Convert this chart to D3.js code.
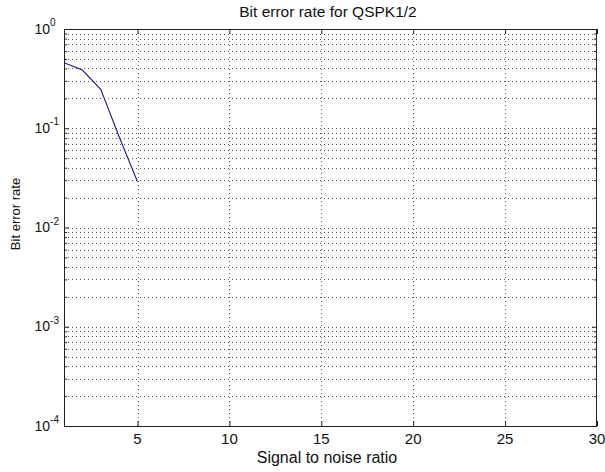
<!DOCTYPE html>
<html><head><meta charset="utf-8">
<script src="https://cdn.jsdelivr.net/npm/d3@7"></script>
<style>body{margin:0;background:#fff}svg{display:block}text{font-family:"Liberation Sans",Arial,sans-serif;fill:#111}</style>
</head><body><svg id="c" width="605" height="472"></svg>
<script>
const snr = [1, 2, 3, 4, 5];
const ber = [0.457, 0.386, 0.247, 0.082, 0.0289];
const xTicks = [5, 10, 15, 20, 25, 30];
const yExponents = [0, -1, -2, -3, -4];
const title = "Bit error rate for QSPK1/2";
const xLabel = "Signal to noise ratio";
const yLabel = "Bit error rate";

const svg = d3.select("#c");
const L = 64, R = 597, T = 29, B = 426;
const x = d3.scaleLinear().domain([1, 30]).range([L, R]);
const y = d3.scaleLog().domain([1e-4, 1]).range([B, T]);

svg.append("rect").attr("width", 605).attr("height", 472).attr("fill", "#fff");

const yAll = [];
for (let e = -4; e < 0; e++) for (let m = 1; m <= 9; m++) yAll.push(m * Math.pow(10, e));
yAll.push(1);
const yMajor = yExponents.map(e => Math.pow(10, e));

const g = svg.append("g");
g.selectAll("line.hg").data(yAll.filter(v => v > 1e-4 && v < 1)).enter().append("line")
  .attr("x1", L).attr("x2", R).attr("y1", d => Math.round(y(d)) + 0.5).attr("y2", d => Math.round(y(d)) + 0.5)
  .attr("stroke", "#555").attr("stroke-width", 1).attr("stroke-dasharray", "1,3");
g.selectAll("line.vg").data(xTicks.filter(v => v < 30)).enter().append("line")
  .attr("y1", T).attr("y2", B).attr("x1", d => Math.round(x(d)) + 0.5).attr("x2", d => Math.round(x(d)) + 0.5)
  .attr("stroke", "#555").attr("stroke-width", 1).attr("stroke-dasharray", "1,3");

svg.append("path").datum(snr.map((s, i) => [s, ber[i]]))
  .attr("d", d3.line().x(d => x(d[0])).y(d => y(d[1])))
  .attr("fill", "none").attr("stroke", "#1c1c8c").attr("stroke-width", 1.1);

const xAxisB = d3.axisBottom(x).tickValues(xTicks).tickSize(-5).tickFormat("");
const xAxisT = d3.axisTop(x).tickValues(xTicks).tickSize(-5).tickFormat("");
const yAxisL = d3.axisLeft(y).tickValues(yAll).tickSize(-5).tickFormat("");
const yAxisR = d3.axisRight(y).tickValues(yAll).tickSize(-5).tickFormat("");
function style(sel) {
  sel.select(".domain").remove();
  sel.selectAll("line").attr("stroke", "#222");
}
svg.append("g").attr("transform", `translate(0,${B})`).call(xAxisB).call(style);
svg.append("g").attr("transform", `translate(0,${T})`).call(xAxisT).call(style);
const gl = svg.append("g").attr("transform", `translate(${L},0)`).call(yAxisL).call(style);
const gr = svg.append("g").attr("transform", `translate(${R},0)`).call(yAxisR).call(style);
[gl, gr].forEach((gg, k) => gg.selectAll(".tick").each(function(d) {
  const isMajor = yMajor.some(v => Math.abs(v - d) / d < 1e-9);
  d3.select(this).select("line").attr("x2", (k === 0 ? 1 : -1) * (isMajor ? 5 : 3));
}));

svg.append("rect").attr("x", L + 0.5).attr("y", T + 0.5).attr("width", R - L - 1).attr("height", B - T)
  .attr("fill", "none").attr("stroke", "#222").attr("stroke-width", 1);

svg.append("g").selectAll("text").data(xTicks).enter().append("text")
  .attr("x", d => x(d)).attr("y", B + 18).attr("text-anchor", "middle")
  .attr("font-size", 15).text(d => d);

const yl = svg.append("g").selectAll("text").data(yExponents).enter().append("text")
  .attr("x", 34.5).attr("y", d => y(Math.pow(10, d)) + 4.5).attr("font-size", 14);
yl.append("tspan").text("10");
yl.append("tspan").attr("dy", -7.5).attr("font-size", 10).text(d => d === 0 ? "0" : "-" + Math.abs(d));

svg.append("text").attr("x", 328).attr("y", 17).attr("text-anchor", "middle").attr("font-size", 15.5).text(title);
svg.append("text").attr("x", 327).attr("y", 463).attr("text-anchor", "middle").attr("font-size", 16).text(xLabel);
svg.append("text").attr("transform", `translate(20,214) rotate(-90)`).attr("text-anchor", "middle").attr("font-size", 13).text(yLabel);
</script></body></html>
